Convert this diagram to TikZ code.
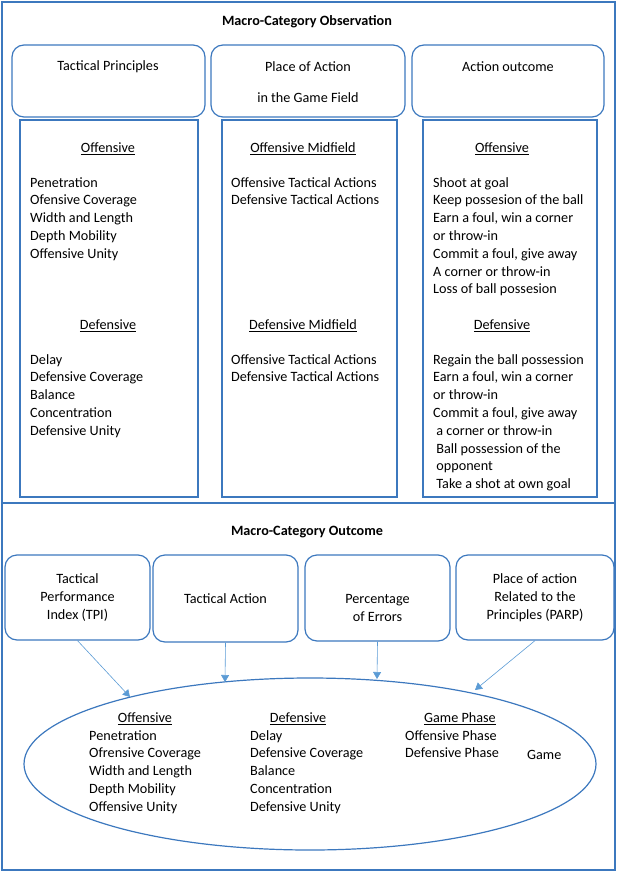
\documentclass[tikz,border=0pt]{standalone}
\usepackage{fontspec}
\setmainfont{Carlito}
\usetikzlibrary{arrows.meta}
\definecolor{frameblue}{RGB}{60,120,190}
\definecolor{arrowblue}{RGB}{91,155,213}
\tikzset{
  rbox/.style={draw=frameblue, line width=1.2pt, rounded corners=12pt},
  sbox/.style={draw=frameblue, line width=1.2pt},
  txt/.style={inner sep=0pt, font=\fontsize{14.2}{17.8}\selectfont},
  list/.style={txt, align=left, anchor=north west},
  head/.style={txt, font=\fontsize{14.2}{17.8}\selectfont\bfseries},
  link/.style={draw=arrowblue, line width=.6pt, -{Triangle[length=7pt,width=8pt]}}
}
\begin{document}
\begin{tikzpicture}[x=1pt,y=-1pt]
\useasboundingbox (0,0) rectangle (617,872);

% frames
\draw[sbox] (2,2) rectangle (615,503);
\draw[sbox] (2,503) rectangle (615,870);

\node[head] (obs) at (307,22) {Macro-Category Observation};

% top headings
\draw[rbox] (12,45) rectangle (205,117);
\draw[rbox] (211,45) rectangle (405,117);
\draw[rbox] (412,45) rectangle (604,117);
\node[txt] (tp) at (108,67) {Tactical Principles};
\node[txt] (pa) at (308,67) {Place of Action};
\node[txt] (pb) at (308,98) {in the Game Field};
\node[txt] (ao) at (508,67) {Action outcome};

% columns
\draw[sbox] (20,120) rectangle (198,497);
\draw[sbox] (222,120) rectangle (397,497);
\draw[sbox] (423,120) rectangle (597,497);

\node[txt] (c1o) at (108,149) {\underline{Offensive}};
\node[list] (c1ol) at (30,177) {Penetration\\Ofensive Coverage\\Width and Length\\Depth Mobility\\Offensive Unity};
\node[txt] (c1d) at (108,326) {\underline{Defensive}};
\node[list] (c1dl) at (30,354) {Delay\\Defensive Coverage\\Balance\\Concentration\\Defensive Unity};

\node[txt] (c2o) at (303,149) {\underline{Offensive Midfield}};
\node[list] (c2ol) at (231,177) {Offensive Tactical Actions\\Defensive Tactical Actions};
\node[txt] (c2d) at (303,326) {\underline{Defensive Midfield}};
\node[list] (c2dl) at (231,354) {Offensive Tactical Actions\\Defensive Tactical Actions};

\node[txt] (c3o) at (502,149) {\underline{Offensive}};
\node[list] (c3ol) at (433,177) {Shoot at goal\\Keep possesion of the ball\\Earn a foul, win a corner\\or throw-in\\Commit a foul, give away\\A corner or throw-in\\Loss of ball possesion};
\node[txt] (c3d) at (502,326) {\underline{Defensive}};
\node[list] (c3dl) at (433,354) {Regain the ball possession\\Earn a foul, win a corner\\or throw-in\\Commit a foul, give away\\\ a corner or throw-in\\\ Ball possession of the\\\ opponent\\\ Take a shot at own goal};

% outcome
\node[head] (out) at (307,532) {Macro-Category Outcome};

\node[rbox, txt, align=center, minimum width=145pt, minimum height=85pt] (tpi) at (77.5,597.5) {Tactical\\Performance\\Index (TPI)};
\node[rbox, txt, align=center, minimum width=145pt, minimum height=87pt] (ta) at (225.5,598.5) {Tactical Action};
\node[rbox, txt, minimum width=145pt, minimum height=86pt] (pe) at (377.5,598) {};
\node[txt, align=center] (pet) at (377.5,608) {Percentage\\of Errors};
\node[rbox, txt, align=center, minimum width=158pt, minimum height=85pt] (parp) at (535,597.5) {Place of action\\Related to the\\Principles (PARP)};

\draw[frameblue, line width=1.2pt] (310,764) ellipse [x radius=286pt, y radius=86pt];

\coordinate (e1) at (130,697);
\coordinate (e2) at (225,682);
\coordinate (e3) at (377,679);
\coordinate (e4) at (475,690);
\draw[link] (tpi.south) -- (e1);
\draw[link] (ta.south) -- (e2);
\draw[link] (pe.south) -- (e3);
\draw[link] (parp.south) -- (e4);

\node[txt] (eo) at (145,719) {\underline{Offensive}};
\node[list] (eol) at (89,730) {Penetration\\Ofrensive Coverage\\Width and Length\\Depth Mobility\\Offensive Unity};
\node[txt] (ed) at (298,719) {\underline{Defensive}};
\node[list] (edl) at (250,730) {Delay\\Defensive Coverage\\Balance\\Concentration\\Defensive Unity};
\node[txt] (eg) at (460,719) {\underline{Game Phase}};
\node[list] (egl) at (405,730) {Offensive Phase\\Defensive Phase};
\node[txt, anchor=west] (game) at (527,755) {Game};
\end{tikzpicture}
\end{document}
